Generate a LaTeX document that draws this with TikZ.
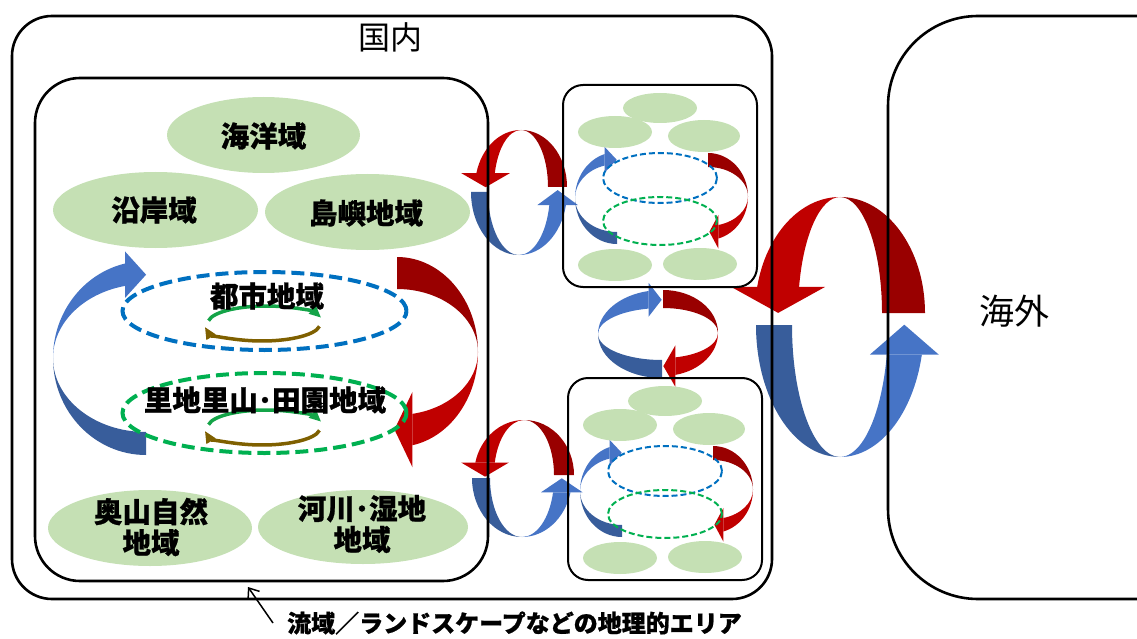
\documentclass[tikz,border=0pt]{standalone}
\usepackage{fontspec}
\newfontfamily\jp{Noto Sans CJK JP}[BoldFeatures={FakeBold=0.8}]
\usetikzlibrary{calc,arrows.meta}
\definecolor{gfill}{HTML}{C5E0B4}
\definecolor{dashblue}{HTML}{0070C0}
\definecolor{dashgreen}{HTML}{00B050}
\definecolor{rdark}{HTML}{990000}
\definecolor{rbright}{HTML}{C00000}
\definecolor{bdark}{HTML}{385D9B}
\definecolor{blight}{HTML}{4674C6}
\definecolor{garrow}{HTML}{14A448}
\definecolor{brownarrow}{HTML}{7F6000}
\newcommand\setring[6]{\def\rcx{#1}\def\rcy{#2}\def\rRx{#3}\def\rRy{#4}\def\rrx{#5}\def\rry{#6}}
\newcommand\band[3]{%
  \fill[#3] ($(\rcx,\rcy)+(#1:\rRx pt and \rRy pt)$)
    arc[start angle=#1, end angle=#2, x radius=\rRx pt, y radius=\rRy pt]
    -- ($(\rcx,\rcy)+(#2:\rrx pt and \rry pt)$)
    arc[start angle=#2, end angle=#1, x radius=\rrx pt, y radius=\rry pt] -- cycle;}
\newcommand\rhead[5]{%
  \path ($(\rcx,\rcy)+(#1:\rRx pt and \rRy pt)$) coordinate (hO)
        ($(\rcx,\rcy)+(#1:\rrx pt and \rry pt)$) coordinate (hI);
  \path ($(hO)!0.5!(hI)$) coordinate (hM);
  \fill[#5] ($(hO)!-#2pt!(hI)$) -- ($(hI)!-#2pt!(hO)$) -- ($(hM)!#3pt!#4:(hO)$) -- cycle;}
\newcommand\sbcontent{%
  \fill[gfill] (660,108) ellipse [x radius=37pt, y radius=15pt];
  \fill[gfill] (615,132) ellipse [x radius=37pt, y radius=16pt];
  \fill[gfill] (704,136) ellipse [x radius=36pt, y radius=16pt];
  \fill[gfill] (615,265) ellipse [x radius=37pt, y radius=16pt];
  \fill[gfill] (700,264) ellipse [x radius=37pt, y radius=16pt];
  \setring{617}{198}{42}{46}{42}{34}
  \band{270}{180}{bdark}\band{180}{107}{blight}\rhead{107}{7}{12}{-90}{blight}
  \setring{708}{196.5}{40}{43.5}{40}{29.5}
  \band{90}{0}{rdark}\band{0}{-75}{rbright}\rhead{-75}{10}{9}{-90}{rbright}
  \draw[sdash, dashblue] (660,178) ellipse [x radius=57pt, y radius=25pt];
  \draw[sdash, dashgreen] (660,221) ellipse [x radius=57pt, y radius=24pt];
  \draw[line width=2pt, rounded corners=20pt] (563,85) rectangle (757,287);}
\begin{document}
\begin{tikzpicture}[x=1pt,y=-1pt,
  lbl/.style={font=\jp\bfseries\fontsize{28.5}{31}\selectfont, inner sep=0pt, align=center},
  bdash/.style={line width=4pt, dash pattern=on 13pt off 6pt},
  sdash/.style={line width=2pt, dash pattern=on 6pt off 3pt},
  boxline/.style={line width=2.6pt}]
\useasboundingbox (0,0) rectangle (1137,639);
\clip (0,0) rectangle (1137,639);
% green regions in left box
\fill[gfill] (263.5,135) ellipse [x radius=96.5pt, y radius=38pt];
\fill[gfill] (155.5,210) ellipse [x radius=102.5pt, y radius=38pt];
\fill[gfill] (367.5,212) ellipse [x radius=102.5pt, y radius=38pt];
\fill[gfill] (150,528) ellipse [x radius=102pt, y radius=38pt];
\fill[gfill] (363,527) ellipse [x radius=105pt, y radius=37pt];
% big left arrows
\setring{146}{358}{93}{97}{93}{74}
\band{270}{180}{bdark}\band{180}{103}{blight}\rhead{103}{12}{21}{-90}{blight}
\setring{397}{352}{81}{95}{81}{63}
\band{90}{0}{rdark}\band{0}{-79}{rbright}\rhead{-79}{22}{18}{-90}{rbright}
% top middle pair
\setring{521}{187}{46}{57}{27}{57}
\band{0}{90}{rdark}\band{90}{166}{rbright}\rhead{166}{15}{14}{90}{rbright}
\setring{519}{192}{48}{63}{31}{63}
\band{180}{270}{bdark}\band{270}{348}{blight}\rhead{348}{12}{15}{90}{blight}
% bottom middle pair
\setring{524}{475}{50}{55}{30}{55}
\band{0}{90}{rdark}\band{90}{167}{rbright}\rhead{167}{14}{14}{90}{rbright}
\setring{522}{478}{50}{59}{32}{59}
\band{180}{270}{bdark}\band{270}{346}{blight}\rhead{346}{12}{14}{90}{blight}
% vertical middle pair
\setring{662}{334}{64}{44}{64}{26}
\band{270}{180}{bdark}\band{180}{102}{blight}\rhead{102}{8}{13}{-90}{blight}
\setring{663}{333}{55}{43}{55}{25}
\band{90}{0}{rdark}\band{0}{-77}{rbright}\rhead{-77}{12}{12}{-90}{rbright}
% big right pair
\setring{840}{313}{85}{116}{42}{116}
\band{0}{90}{rdark}\band{90}{167}{rbright}\rhead{167}{26}{26}{90}{rbright}
\setring{840}{325}{84}{132}{48}{132}
\band{180}{270}{bdark}\band{270}{347}{blight}\rhead{347}{17}{30}{90}{blight}
% small boxes
\begin{scope}\sbcontent\end{scope}
\begin{scope}[shift={(5,293)}]\sbcontent\end{scope}
% dashed regions and inner cycles
\draw[bdash, dashblue] (264.5,311) ellipse [x radius=142pt, y radius=39pt];
\draw[bdash, dashgreen] (264.5,413) ellipse [x radius=142pt, y radius=40pt];
\foreach \dy in {0,104}{
  \begin{scope}[shift={(0,\dy)}]
  \draw[garrow, line width=3.5pt, -{Triangle[width=10pt,length=12pt]}]
    ($(266,323)+(172:58pt and 17pt)$) arc[start angle=172, end angle=18, x radius=58pt, y radius=17pt];
  \draw[brownarrow, line width=3.5pt, -{Triangle[width=10pt,length=12pt]}]
    ($(262,324)+(-8:58pt and 17pt)$) arc[start angle=-8, end angle=-170, x radius=58pt, y radius=17pt];
  \end{scope}}
% boxes
\draw[boxline, rounded corners=40pt] (12,16) rectangle (772,599);
\draw[boxline, rounded corners=45pt] (35,78) rectangle (488,581);
\draw[boxline] (1145,16) -- (978,16) arc[start angle=90, end angle=180, radius=90pt]
  -- (888,509) arc[start angle=180, end angle=270, radius=90pt] -- (1145,599);
% texts
\node[font=\jp\fontsize{32}{36}\selectfont, inner sep=0pt] (kokunai) at (390,37) {国内};
\node[font=\jp\fontsize{35}{40}\selectfont, inner sep=0pt] (kaigai) at (1014,311) {海外};
\node[lbl] (kaiyo) at (263.5,136) {海洋域};
\node[lbl] (engan) at (154,210) {沿岸域};
\node[lbl] (tosho) at (366,213) {島嶼地域};
\node[lbl] (toshi) at (267,296) {都市地域};
\node[lbl] (satoyama) at (265,400) {里地里山･田園地域};
\node[lbl] (okuyama) at (151,527) {奥山自然\\地域};
\node[lbl] (kasen) at (362,524) {河川･湿地\\地域};
\node[font=\jp\bfseries\fontsize{24}{28}\selectfont, inner sep=0pt, anchor=west] (note) at (287,623) {流域／ランドスケープなどの地理的エリア};
\coordinate (ptr) at (248,587);
\draw[line width=1.5pt, -{Straight Barb[length=9pt,width=14pt]}] ($(note.west)+(-14,0)$) -- (ptr);
\end{tikzpicture}
\end{document}
